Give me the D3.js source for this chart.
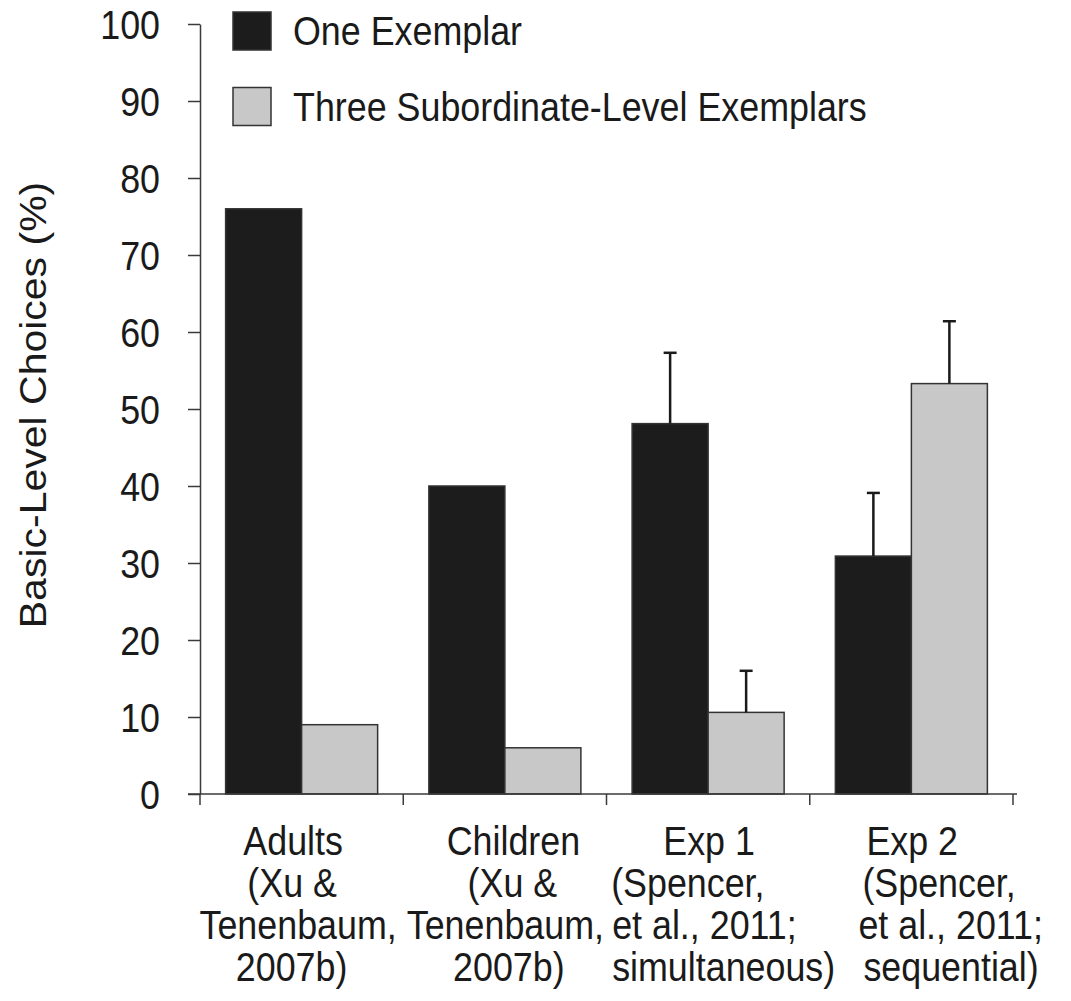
<!DOCTYPE html>
<html>
<head>
<meta charset="utf-8">
<script src="https://cdn.jsdelivr.net/npm/d3@7"></script>
<style>
  html, body { margin: 0; padding: 0; background: #fff; }
  svg { display: block; }
  text { font-family: "Liberation Sans", Arial, Helvetica, sans-serif; fill: #1a1a1a; }
</style>
</head>
<body>
<svg id="chart" width="1071" height="1001"></svg>
<script>
// Study conditions along the x axis
const categories = ["Adults", "Children", "Exp 1", "Exp 2"];
const categoryLines = [
  ["Adults", "(Xu &", "Tenenbaum,", "2007b)"],
  ["Children", "(Xu &", "Tenenbaum,", "2007b)"],
  ["Exp 1", "(Spencer,", "et al., 2011;", "simultaneous)"],
  ["Exp 2", "(Spencer,", "et al., 2011;", "sequential)"]
];

// Series: percentage of basic-level choices
const seriesNames = ["One Exemplar", "Three Subordinate-Level Exemplars"];
const oneExemplar = [76, 40, 48.1, 30.9];
const threeExemplars = [9, 6, 10.6, 53.3];
// Upper error bars (null where no error bar is reported)
const oneExemplarErr = [null, null, 9.2, 8.2];
const threeExemplarsErr = [null, null, 5.4, 8.1];

const yTicks = [0, 10, 20, 30, 40, 50, 60, 70, 80, 90, 100];
const yLabel = "Basic-Level Choices (%)";

const colors = ["#1c1c1c", "#c8c8c8"];

const svg = d3.select("#chart");
const axisColor = "#3a3a3a";
const fontSize = 40.5;
const squeeze = 0.885;   // narrow Helvetica-like set width

const x0 = d3.scaleBand().domain(categories).range([200, 1013]).padding(0);
const x1 = d3.scaleBand().domain(seriesNames).range([0, x0.bandwidth()])
  .paddingInner(0).paddingOuter(0.337);
const y = d3.scaleLinear().domain([0, 100]).range([794, 24]);

// Horizontal text with the narrow set width
function label(parent, x, yPos, str, anchor) {
  return parent.append("text")
    .attr("transform", `translate(${x},${yPos}) scale(${squeeze},1)`)
    .attr("text-anchor", anchor || "start")
    .style("font-size", fontSize + "px")
    .text(str);
}

const rows = categories.map((c, i) => ({
  cat: c,
  values: [
    { s: seriesNames[0], v: oneExemplar[i], e: oneExemplarErr[i], c: colors[0] },
    { s: seriesNames[1], v: threeExemplars[i], e: threeExemplarsErr[i], c: colors[1] }
  ]
}));

const groups = svg.append("g").selectAll("g").data(rows).join("g")
  .attr("transform", d => `translate(${x0(d.cat)},0)`);

groups.selectAll("rect").data(d => d.values).join("rect")
  .attr("x", d => x1(d.s))
  .attr("y", d => y(d.v))
  .attr("width", x1.bandwidth())
  .attr("height", d => y(0) - y(d.v))
  .attr("fill", d => d.c)
  .attr("stroke", "#333")
  .attr("stroke-width", 1.5);

// Upper error bars with caps
const errs = groups.selectAll("g.err").data(d => d.values.filter(v => v.e != null)).join("g")
  .attr("class", "err");
errs.append("line")
  .attr("x1", d => x1(d.s) + x1.bandwidth() / 2)
  .attr("x2", d => x1(d.s) + x1.bandwidth() / 2)
  .attr("y1", d => y(d.v))
  .attr("y2", d => y(d.v + d.e))
  .attr("stroke", "#1a1a1a").attr("stroke-width", 2.5);
errs.append("line")
  .attr("x1", d => x1(d.s) + x1.bandwidth() / 2 - 6.5)
  .attr("x2", d => x1(d.s) + x1.bandwidth() / 2 + 6.5)
  .attr("y1", d => y(d.v + d.e))
  .attr("y2", d => y(d.v + d.e))
  .attr("stroke", "#1a1a1a").attr("stroke-width", 2.5);

// Y axis
const yAxis = svg.append("g").attr("transform", "translate(200,0)")
  .call(d3.axisLeft(y).tickValues(yTicks).tickSize(12).tickSizeOuter(0));
yAxis.select(".domain").attr("stroke", axisColor).attr("stroke-width", 1.5);
yAxis.selectAll(".tick line").attr("stroke", axisColor).attr("stroke-width", 1.5);
yAxis.selectAll(".tick text")
  .attr("x", null).attr("dy", null)
  .attr("transform", `translate(-40,14) scale(${squeeze},1)`)
  .attr("text-anchor", "end")
  .style("font-size", fontSize + "px")
  .style("font-family", "'Liberation Sans', Arial, sans-serif")
  .attr("fill", "#1a1a1a");

// X axis: baseline with ticks at category boundaries
const xg = svg.append("g");
xg.append("line")
  .attr("x1", 188).attr("x2", x0.range()[1] + 4)
  .attr("y1", y(0)).attr("y2", y(0))
  .attr("stroke", axisColor).attr("stroke-width", 1.5);
const bounds = categories.map(c => x0(c)).concat([x0.range()[1]]);
xg.selectAll("line.tk").data(bounds).join("line").attr("class", "tk")
  .attr("x1", d => d).attr("x2", d => d)
  .attr("y1", y(0)).attr("y2", y(0) + 11)
  .attr("stroke", axisColor).attr("stroke-width", 1.5);

// Category labels (multi-line): anchor and horizontal shift of each line
const labelAnchors = [
  ["middle", "middle", "middle", "middle"],
  ["middle", "middle", "middle", "middle"],
  ["middle", "start", "start", "start"],
  ["start", "start", "start", "start"]
];
const labelShifts = [
  [-8.5, -9.5, -3.5, -10],
  [8.5, 7.5, 0.5, 4],
  [1, -97, -96, -96],
  [-45, -49, -53, -48]
];
categoryLines.forEach((lines, i) => {
  const cx = x0(categories[i]) + x0.bandwidth() / 2;
  lines.forEach((t, j) => {
    label(svg, cx + labelShifts[i][j], 855 + j * 42, t, labelAnchors[i][j]);
  });
});

// Y axis title
svg.append("text")
  .attr("transform", `translate(46,405) scale(${squeeze},1) rotate(-90)`)
  .attr("text-anchor", "middle")
  .style("font-size", (fontSize + 0.5) + "px")
  .text(yLabel);

// Legend
const legend = svg.append("g").selectAll("g").data(seriesNames).join("g")
  .attr("transform", (d, i) => `translate(233,${12 + i * 75.5})`);
legend.append("rect")
  .attr("width", 38).attr("height", 38)
  .attr("fill", (d, i) => colors[i])
  .attr("stroke", "#333").attr("stroke-width", 1.5);
legend.each(function(d) {
  label(d3.select(this), 60, 33, d, "start");
});
</script>
</body>
</html>
